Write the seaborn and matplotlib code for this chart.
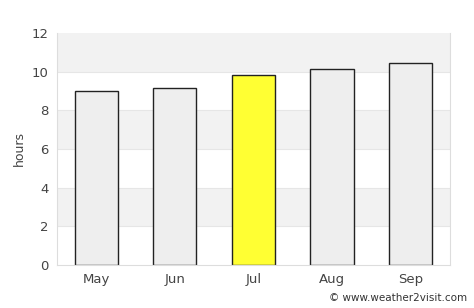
import matplotlib
matplotlib.use("Agg")
import matplotlib.pyplot as plt
import seaborn as sns
import pandas as pd

# Sunshine hours per month
months = ["May", "Jun", "Jul", "Aug", "Sep"]
hours = [9.0, 9.15, 9.8, 10.15, 10.45]
highlight = "Jul"
y_ticks = [0, 2, 4, 6, 8, 10, 12]

df = pd.DataFrame({"month": months, "hours": hours})
colors = ["#ffff33" if m == highlight else "#eeeeee" for m in months]

sns.set_style("white")
plt.rcParams['font.family'] = ['DejaVu Sans']

fig = plt.figure(figsize=(4.74, 3.08), dpi=100)
ax = fig.add_axes([0.120, 0.140, 0.829, 0.753])

# alternating background bands
for i in range(len(y_ticks) - 1):
    if i % 2 == 1:
        ax.axhspan(y_ticks[i], y_ticks[i + 1], color="#f2f2f2", zorder=0, lw=0)
for t in y_ticks[1:-1]:
    ax.axhline(t, color="#e6e6e6", lw=0.8, zorder=0.5)

sns.barplot(data=df, x="month", y="hours", hue="month", palette=colors,
            legend=False, width=0.55, edgecolor="#222222", linewidth=1.0,
            saturation=1, ax=ax, zorder=2)

ax.set_xlim(-0.5, len(months) - 0.5)
ax.set_ylim(0, 12)
ax.set_yticks(y_ticks)
ax.set_xlabel("")
ax.set_ylabel("hours", color="#444444", fontsize=9)
ax.tick_params(axis="both", colors="#444444", labelsize=9.5, length=0, pad=6)
for s in ax.spines.values():
    s.set_color("#dddddd")
    s.set_linewidth(0.8)
ax.spines["top"].set_visible(False)

fig.text(0.985, 0.015, "© www.weather2visit.com", ha="right", va="bottom",
         fontsize=7.5, color="#333333")

fig.savefig("out.png", dpi=100)
